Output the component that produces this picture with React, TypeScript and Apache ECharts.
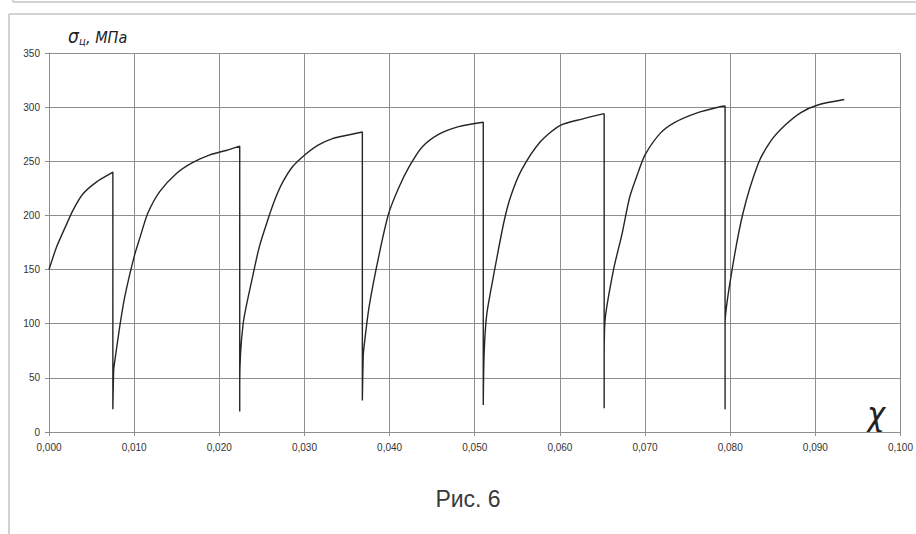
import React, { useEffect, useRef } from "react";
import * as echarts from "echarts";

// Strain (χ) and hoop stress (σц, MPa) readings, including the unloading drops
const strain: number[] = [
  0, 0.0009, 0.0019, 0.0029, 0.004, 0.0056, 0.0073, 0.0075,
  0.0075, 0.0076,
  0.0077, 0.0083, 0.0089, 0.01, 0.0107, 0.0116, 0.013, 0.015, 0.0169, 0.0189, 0.0208, 0.0224,
  0.0224, 0.0224,
  0.0228, 0.0239, 0.0247, 0.0257, 0.0265, 0.0274, 0.0286, 0.0302, 0.0316, 0.0333, 0.035, 0.0368,
  0.0368, 0.0369,
  0.037, 0.0376, 0.0388, 0.0399, 0.0411, 0.0423, 0.0438, 0.0458, 0.0481, 0.051,
  0.051, 0.0511,
  0.0514, 0.0522, 0.0534, 0.0542, 0.0555, 0.0577, 0.06, 0.0626, 0.0652,
  0.0652, 0.0652,
  0.0653, 0.0663, 0.0673, 0.0682, 0.0692, 0.07, 0.0718, 0.0735, 0.0762, 0.0786, 0.0794,
  0.0794, 0.0794,
  0.0801, 0.0815, 0.0833, 0.0848, 0.0864, 0.0883, 0.0903, 0.0934,
];
const stress: number[] = [
  150, 171, 189, 206, 220, 231, 239, 240,
  21, 58,
  64, 97, 125, 162, 180, 202, 222, 239, 249, 256, 260, 264,
  19, 45,
  100, 143, 171, 196, 214, 230, 245, 257, 265, 271, 274, 277,
  29, 70,
  79, 116, 165, 202, 226, 245, 263, 275, 282, 286,
  25, 72,
  108, 144, 193, 217, 242, 268, 283, 289, 294,
  22, 64,
  103, 150, 183, 217, 240, 256, 276, 286, 295, 300, 301,
  21, 100,
  144, 202, 248, 269, 283, 295, 302, 307,
];
const yTicks = { min: 0, max: 350, interval: 50 };
const xTicks = { min: 0, max: 0.1, interval: 0.01 };
const yName = ["σ", "ц", ", МПа"];
const xName = "χ";
const caption = "Рис. 6";

export default function App() {
  const ref = useRef<HTMLDivElement>(null);
  useEffect(() => {
    document.body.style.margin = "0";
    if (!ref.current) return;
    const chart = echarts.init(ref.current, null, { renderer: "svg" });
    const data = strain.map((x, i) => [x, stress[i]]);
    const gridColor = "#8f8f8f";
    const frameColor = "#c4c4c4";
    const narrow = "'Liberation Sans Narrow', 'DejaVu Sans Condensed', 'Liberation Sans', sans-serif";
    chart.setOption({
      animation: false,
      backgroundColor: "#ffffff",
      grid: { left: 49, top: 53, width: 854, height: 379, containLabel: false },
      xAxis: {
        type: "value",
        min: xTicks.min,
        max: xTicks.max,
        interval: xTicks.interval,
        axisLine: { show: true, lineStyle: { color: gridColor, width: 1 } },
        axisTick: { show: true, length: 4, lineStyle: { color: gridColor } },
        splitLine: { show: true, lineStyle: { color: gridColor, width: 1 } },
        axisLabel: {
          color: "#333",
          fontSize: 10,
          fontFamily: "'Liberation Sans', Arial, sans-serif",
          margin: 10,
          formatter: (v: number) => v.toFixed(3).replace(".", ","),
        },
      },
      yAxis: {
        type: "value",
        min: yTicks.min,
        max: yTicks.max,
        interval: yTicks.interval,
        axisLine: { show: true, lineStyle: { color: gridColor, width: 1 } },
        axisTick: { show: true, length: 4, lineStyle: { color: gridColor } },
        splitLine: { show: true, lineStyle: { color: gridColor, width: 1 } },
        axisLabel: {
          color: "#333",
          fontSize: 10,
          fontFamily: "'Liberation Sans', Arial, sans-serif",
          margin: 9,
        },
      },
      series: [
        {
          type: "line",
          data,
          symbol: "none",
          smooth: 0.25,
          lineStyle: { color: "#262626", width: 1.4 },
          silent: true,
        },
      ],
      graphic: [
        { type: "line", shape: { x1: 13, y1: 2, x2: 916, y2: 2 }, style: { stroke: frameColor, lineWidth: 1.5 }, silent: true },
        { type: "line", shape: { x1: 13, y1: 0, x2: 13, y2: 2 }, style: { stroke: frameColor, lineWidth: 1.5 }, silent: true },
        { type: "line", shape: { x1: 9, y1: 14, x2: 916, y2: 14 }, style: { stroke: frameColor, lineWidth: 1.5 }, silent: true },
        { type: "line", shape: { x1: 9, y1: 14, x2: 9, y2: 534 }, style: { stroke: frameColor, lineWidth: 1.5 }, silent: true },
        {
          type: "text",
          x: 68,
          y: 45,
          style: { text: yName[0], font: "italic 19px " + narrow, fill: "#222", textVerticalAlign: "bottom" },
        },
        {
          type: "text",
          x: 79,
          y: 47,
          style: { text: yName[1], font: "italic 11px " + narrow, fill: "#222", textVerticalAlign: "bottom" },
        },
        {
          type: "text",
          x: 86,
          y: 45,
          style: { text: yName[2], font: "italic 16px " + narrow, fill: "#222", textVerticalAlign: "bottom" },
        },
        {
          type: "text",
          x: 876,
          y: 414,
          style: { text: xName, font: "italic 34px " + narrow, fill: "#222", textAlign: "center", textVerticalAlign: "middle" },
        },
        {
          type: "text",
          x: 468,
          y: 499,
          style: { text: caption, font: "23px 'Liberation Sans', Arial, sans-serif", fill: "#3a3a3a", textAlign: "center", textVerticalAlign: "middle" },
        },
      ],
    });
    return () => chart.dispose();
  }, []);
  return <div ref={ref} style={{ width: 916, height: 534 }} />;
}
